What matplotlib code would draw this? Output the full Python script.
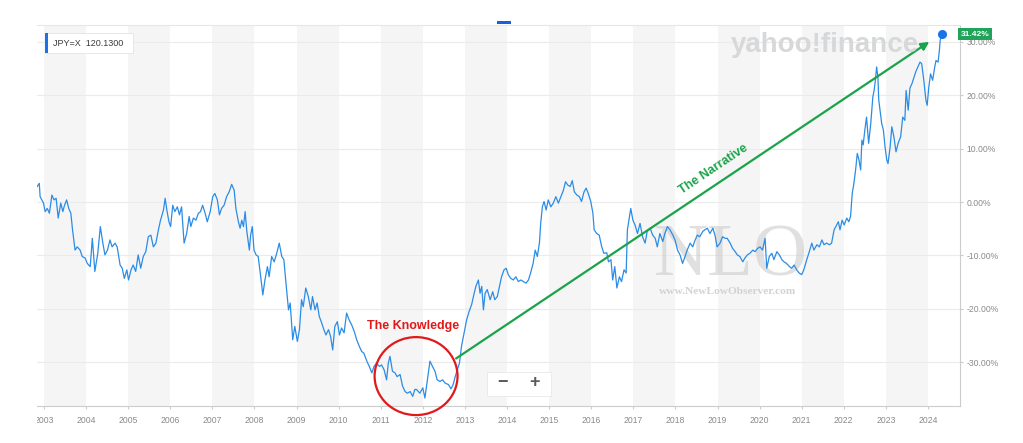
import matplotlib.pyplot as plt
import matplotlib.transforms as mtransforms
from matplotlib.patches import Ellipse, Rectangle

plt.rcParams['font.family'] = ['Liberation Sans', 'DejaVu Sans']

# JPY=X, % change since start
years = [
    2002.84, 2002.89, 2002.91, 2002.99, 2003.03, 2003.08, 2003.13, 2003.19, 2003.24, 2003.29,
    2003.34, 2003.40, 2003.45, 2003.49, 2003.54, 2003.59, 2003.64, 2003.68, 2003.74, 2003.79,
    2003.86, 2003.91, 2003.98, 2004.03, 2004.10, 2004.15, 2004.21, 2004.28, 2004.34, 2004.40,
    2004.45, 2004.51, 2004.57, 2004.62, 2004.69, 2004.74, 2004.81, 2004.86, 2004.91, 2004.97,
    2005.01, 2005.07, 2005.12, 2005.18, 2005.24, 2005.30, 2005.36, 2005.42, 2005.48, 2005.54,
    2005.60, 2005.66, 2005.72, 2005.77, 2005.84, 2005.88, 2005.92, 2005.97, 2006.01, 2006.06,
    2006.11, 2006.17, 2006.22, 2006.27, 2006.33, 2006.39, 2006.45, 2006.49, 2006.55, 2006.61,
    2006.67, 2006.72, 2006.77, 2006.83, 2006.88, 2006.95, 2007.01, 2007.06, 2007.12, 2007.17,
    2007.22, 2007.28, 2007.34, 2007.40, 2007.46, 2007.52, 2007.56, 2007.62, 2007.66, 2007.70,
    2007.74, 2007.78, 2007.82, 2007.88, 2007.91, 2007.95, 2007.99, 2008.04, 2008.09, 2008.15,
    2008.20, 2008.25, 2008.31, 2008.35, 2008.41, 2008.47, 2008.53, 2008.59, 2008.65, 2008.70,
    2008.75, 2008.81, 2008.85, 2008.91, 2008.96, 2009.02, 2009.07, 2009.12, 2009.16, 2009.22,
    2009.28, 2009.34, 2009.38, 2009.44, 2009.49, 2009.54, 2009.60, 2009.65, 2009.70, 2009.76,
    2009.81, 2009.86, 2009.91, 2009.97, 2010.02, 2010.07, 2010.13, 2010.19, 2010.25, 2010.31,
    2010.37, 2010.43, 2010.49, 2010.55, 2010.60, 2010.67, 2010.73, 2010.79, 2010.84, 2010.90,
    2010.97, 2011.02, 2011.08, 2011.14, 2011.18, 2011.22, 2011.28, 2011.34, 2011.39, 2011.46,
    2011.52, 2011.58, 2011.63, 2011.70, 2011.76, 2011.81, 2011.85, 2011.93, 2012.00, 2012.05,
    2012.11, 2012.17, 2012.23, 2012.29, 2012.34, 2012.41, 2012.47, 2012.53, 2012.61, 2012.67,
    2012.72, 2012.77, 2012.82, 2012.87, 2012.92, 2012.98, 2013.04, 2013.10, 2013.16, 2013.22,
    2013.26, 2013.32, 2013.36, 2013.40, 2013.44, 2013.48, 2013.53, 2013.60, 2013.66, 2013.71,
    2013.77, 2013.82, 2013.87, 2013.93, 2013.98, 2014.03, 2014.09, 2014.15, 2014.21, 2014.27,
    2014.33, 2014.39, 2014.45, 2014.51, 2014.56, 2014.62, 2014.67, 2014.72, 2014.77, 2014.80,
    2014.84, 2014.88, 2014.93, 2014.98, 2015.04, 2015.10, 2015.16, 2015.22, 2015.28, 2015.34,
    2015.39, 2015.44, 2015.50, 2015.55, 2015.60, 2015.66, 2015.72, 2015.77, 2015.83, 2015.88,
    2015.93, 2015.99, 2016.04, 2016.07, 2016.13, 2016.19, 2016.25, 2016.30, 2016.37, 2016.41,
    2016.47, 2016.51, 2016.56, 2016.61, 2016.67, 2016.72, 2016.78, 2016.83, 2016.86, 2016.91,
    2016.94, 2016.99, 2017.04, 2017.10, 2017.16, 2017.22, 2017.28, 2017.33, 2017.40, 2017.46,
    2017.52, 2017.57, 2017.63, 2017.70, 2017.75, 2017.81, 2017.87, 2017.94, 2017.99, 2018.05,
    2018.11, 2018.17, 2018.23, 2018.28, 2018.35, 2018.41, 2018.47, 2018.52, 2018.58, 2018.65,
    2018.70, 2018.76, 2018.82, 2018.89, 2018.94, 2018.99, 2019.06, 2019.12, 2019.18, 2019.23,
    2019.30, 2019.36, 2019.42, 2019.47, 2019.53, 2019.60, 2019.65, 2019.71, 2019.77, 2019.84,
    2019.89, 2019.95, 2020.01, 2020.07, 2020.13, 2020.17, 2020.23, 2020.29, 2020.34, 2020.41,
    2020.47, 2020.53, 2020.58, 2020.64, 2020.71, 2020.76, 2020.82, 2020.88, 2020.94, 2021.00,
    2021.05, 2021.12, 2021.18, 2021.24, 2021.29, 2021.36, 2021.42, 2021.48, 2021.53, 2021.59,
    2021.66, 2021.71, 2021.77, 2021.81, 2021.87, 2021.91, 2021.96, 2022.01, 2022.07, 2022.12,
    2022.16, 2022.20, 2022.24, 2022.28, 2022.32, 2022.36, 2022.40, 2022.43, 2022.46, 2022.50,
    2022.54, 2022.59, 2022.64, 2022.69, 2022.72, 2022.75, 2022.78, 2022.81, 2022.83, 2022.86,
    2022.90, 2022.94, 2022.98, 2023.02, 2023.05, 2023.10, 2023.14, 2023.19, 2023.24, 2023.29,
    2023.35, 2023.40, 2023.45, 2023.48, 2023.53, 2023.57, 2023.62, 2023.67, 2023.71, 2023.76,
    2023.81, 2023.85, 2023.90, 2023.95, 2023.98, 2024.02, 2024.06, 2024.11, 2024.16, 2024.19,
    2024.24, 2024.27, 2024.29, 2024.33,
]
pct = [
    2.9, 3.5, 1.0, -0.2, -1.8, -1.2, -2.1, 1.3, 0.4, 0.7,
    -3.0, -0.2, -1.8, -0.6, 0.4, -1.2, -2.1, -5.2, -9.0, -8.4,
    -9.0, -10.2, -10.5, -11.5, -12.1, -6.8, -13.0, -9.6, -4.6, -7.7,
    -9.9, -9.0, -7.1, -8.4, -7.7, -8.4, -11.8, -12.4, -14.3, -12.7,
    -14.6, -12.7, -11.8, -13.0, -9.9, -12.4, -10.2, -9.3, -6.5, -6.2,
    -8.4, -7.7, -5.2, -3.4, -1.5, 0.7, -1.5, -3.7, -4.6, -0.6,
    -1.8, -0.9, -2.4, -0.9, -7.7, -5.9, -2.7, -4.6, -3.0, -3.4,
    -2.1, -1.8, -0.6, -2.1, -3.7, -1.8, 1.0, 1.6, 0.4, -2.4,
    -1.2, -0.6, 1.0, 1.9, 3.3, 2.2, -1.2, -3.7, -4.9, -3.4,
    -4.6, -1.8, -5.5, -9.0, -6.2, -4.6, -9.0, -9.9, -10.2, -14.0,
    -17.4, -14.6, -12.1, -14.0, -10.2, -11.2, -9.6, -7.7, -10.2, -10.8,
    -15.2, -20.2, -18.9, -25.8, -23.3, -26.1, -23.9, -18.3, -19.6, -16.1,
    -17.7, -20.2, -17.7, -20.2, -18.9, -21.4, -22.7, -23.9, -24.9, -23.9,
    -25.2, -27.7, -23.3, -22.4, -24.9, -23.6, -24.5, -20.8, -22.1, -23.0,
    -24.2, -25.8, -27.0, -28.0, -28.3, -29.8, -30.8, -32.0, -30.8, -30.2,
    -30.8, -30.5, -31.4, -33.3, -30.2, -28.9, -31.7, -32.0, -32.7, -32.3,
    -34.5, -35.5, -35.8, -35.5, -36.4, -35.1, -35.1, -35.8, -34.8, -36.7,
    -33.3, -29.8, -30.8, -31.7, -33.3, -33.6, -33.3, -33.9, -34.2, -35.0,
    -34.2, -32.7, -31.4, -30.2, -27.0, -24.5, -22.1, -20.5, -19.2, -17.1,
    -15.8, -14.6, -17.1, -15.8, -20.2, -17.1, -16.4, -18.3, -16.8, -18.3,
    -17.7, -15.8, -14.0, -12.7, -12.4, -13.6, -14.3, -14.6, -14.0, -14.9,
    -14.6, -14.9, -15.2, -14.6, -13.3, -11.5, -9.0, -10.2, -7.7, -4.0,
    -0.9, 0.1, -1.5, 0.4, -0.9, -0.2, 1.0, -0.2, 1.0, 2.2,
    3.8, 3.2, 2.9, 4.0, 1.9, 1.3, 1.0, 0.1, 1.9, 2.6,
    1.6, 0.1, -2.1, -5.2, -5.9, -6.2, -8.4, -9.6, -9.5, -11.2,
    -10.8, -14.6, -12.1, -16.1, -14.0, -14.9, -12.7, -13.3, -5.2, -2.7,
    -1.2, -3.4, -4.3, -5.9, -4.0, -6.5, -7.7, -5.5, -4.9, -6.2,
    -6.8, -8.4, -5.9, -7.4, -5.9, -4.6, -5.2, -6.2, -7.1, -9.0,
    -9.9, -11.5, -10.2, -9.0, -7.7, -8.4, -7.1, -6.2, -6.5, -5.5,
    -5.2, -4.9, -5.9, -4.9, -6.2, -8.4, -7.7, -6.5, -6.8, -6.8,
    -7.7, -8.7, -9.3, -9.9, -10.2, -11.2, -10.5, -9.9, -9.6, -9.0,
    -9.3, -8.7, -8.4, -9.0, -6.8, -12.4, -10.2, -9.6, -10.8, -9.3,
    -9.9, -10.8, -11.2, -11.5, -12.1, -12.4, -11.8, -12.7, -13.3, -13.6,
    -12.7, -10.8, -9.3, -7.7, -9.0, -8.0, -8.4, -7.1, -8.0, -7.7,
    -8.0, -7.7, -5.2, -4.6, -3.7, -5.2, -3.4, -4.3, -3.0, -3.7,
    -2.7, 1.6, 3.5, 6.0, 9.1, 7.9, 6.0, 11.6, 10.7, 13.5,
    15.9, 11.0, 14.7, 19.7, 20.9, 22.8, 25.3, 23.4, 19.1, 17.2,
    14.7, 13.5, 10.3, 7.9, 7.2, 10.3, 14.1, 12.2, 9.4, 11.0,
    12.2, 15.9, 15.3, 20.9, 17.2, 21.3, 22.2, 23.4, 24.4, 25.3,
    26.2, 25.9, 22.8, 19.1, 18.1, 21.6, 24.0, 22.8, 25.3, 26.5,
    26.2, 28.4, 30.3, 31.42,
]

tick_years = list(range(2003, 2025))
y_ticks = [-30, -20, -10, 0, 10, 20, 30]
quote_label = 'JPY=X  120.1300'
last_label = '31.42%'

# annotation anchors (year, %)
knowledge_center = (2011.84, -32.6)
arrow_start = (2012.79, -29.3)
arrow_end = (2024.03, 30.0)

W, H = 1023, 443
fig = plt.figure(figsize=(W / 100, H / 100), dpi=100)
ax = fig.add_axes([37 / W, (H - 406) / H, (960 - 37) / W, (406 - 25) / H])


def fpos(x, y):
    return x / W, 1 - y / H


# alternating year stripes
for yr in tick_years[::2]:
    ax.axvspan(yr, yr + 1, color='#f5f5f5', lw=0, zorder=0)

ax.plot(years, pct, color='#2b8ce6', lw=0.9, zorder=3)
ax.plot(years[-1], pct[-1], 'o', color='#1a73e8', ms=5.5, zorder=4, clip_on=False)

ax.set_xlim(2002.836, 2024.76)
ax.set_ylim(-38.2, 33.15)
ax.set_xticks(tick_years)
ax.set_xticklabels([str(y) for y in tick_years])
ax.set_yticks(y_ticks)
ax.set_yticklabels([f'{v:.2f}%' for v in y_ticks])
ax.yaxis.tick_right()
ax.tick_params(axis='both', colors='#cccccc', labelcolor='#8a8a8a', labelsize=6.2,
               length=2.5, width=0.8)
ax.tick_params(axis='x', pad=5)
ax.tick_params(axis='y', pad=2)
ax.yaxis.grid(True, color='#ebebeb', lw=0.8)
ax.set_axisbelow(True)
ax.spines['left'].set_visible(False)
ax.spines['top'].set_color('#e6e6e6')
ax.spines['bottom'].set_color('#cccccc')
ax.spines['right'].set_color('#cccccc')
ax.set_facecolor('white')

# clip the first year label at the plot edge, like the reference
clip = mtransforms.TransformedBbox(mtransforms.Bbox([[0, -0.2], [1.1, 0]]), ax.transAxes)
for lbl in ax.get_xticklabels():
    lbl.set_clip_box(clip)
    lbl.set_clip_on(True)

# last value tag
trans = mtransforms.blended_transform_factory(ax.transAxes, ax.transData)
ax.text(1.0163, pct[-1], last_label, transform=trans, ha='center', va='center',
        fontsize=6, fontweight='bold', color='white', zorder=6, clip_on=False,
        bbox=dict(boxstyle='square,pad=0.3', fc='#1fa45a', ec='none'))

# watermarks
fig.text(*fpos(825, 52), 'yahoo!finance', ha='center', va='baseline', fontsize=20,
         fontweight='bold', color='#d7d8da', zorder=1)
ax.text(*fpos(731, 276), 'NLO', transform=fig.transFigure, ha='center', va='baseline',
        fontsize=54, family=['Liberation Serif'], color='#c8c8c8', alpha=0.55, zorder=2)
ax.text(*fpos(728, 292), 'www.NewLowObserver.com', transform=fig.transFigure, ha='center',
        va='center', fontsize=8.2, family=['Liberation Serif'], fontweight='bold',
        color='#d2d2d2', zorder=2)

# annotations
ax.add_patch(Ellipse(knowledge_center, 1.97, 14.6, fill=False, ec='#e0191b', lw=1.6,
                     zorder=5, clip_on=False))
ax.text(2011.78, -23.3, 'The Knowledge', ha='center', va='center', fontsize=9,
        fontweight='bold', color='#e0191b', zorder=5)
ax.annotate('', xy=arrow_end, xytext=arrow_start, zorder=5,
            arrowprops=dict(arrowstyle='-|>', color='#1aa34a', lw=1.6, mutation_scale=12,
                            shrinkA=0, shrinkB=0))
ax.text(2018.90, 6.2, 'The Narrative', ha='center', va='center', rotation=33.8,
        rotation_mode='anchor', fontsize=9, fontweight='bold', color='#1aa34a', zorder=5)

# quote box top-left
fig.patches.append(Rectangle(fpos(45, 53), 88 / W, 20 / H, transform=fig.transFigure,
                             fc='white', ec='#e4e4e4', lw=0.6, zorder=7))
fig.patches.append(Rectangle(fpos(45, 53), 3 / W, 20 / H, transform=fig.transFigure,
                             fc='#1a73e8', ec='none', zorder=8))
fig.text(*fpos(53, 44), quote_label, ha='left', va='center', fontsize=6.5,
         color='#3a3a3a', zorder=9)

# small blue dash at the top
fig.patches.append(Rectangle(fpos(497, 24), 14 / W, 3 / H, transform=fig.transFigure,
                             fc='#1a5fe0', ec='none'))

# zoom buttons
fig.patches.append(Rectangle(fpos(487, 396), 64 / W, 24 / H, transform=fig.transFigure,
                             fc='white', ec='#e8e8e8', lw=0.6, zorder=7))
fig.patches.append(Rectangle(fpos(518.5, 392), 0.8 / W, 17 / H, transform=fig.transFigure,
                             fc='#e0e0e0', ec='none', zorder=8))
fig.text(*fpos(502, 383), '\u2212', ha='center', va='center', fontsize=13,
         fontweight='bold', color='#5a5a5a', zorder=9)
fig.text(*fpos(535, 383), '+', ha='center', va='center', fontsize=13,
         fontweight='bold', color='#5a5a5a', zorder=9)

fig.savefig('out.png', dpi=100, facecolor='white')
